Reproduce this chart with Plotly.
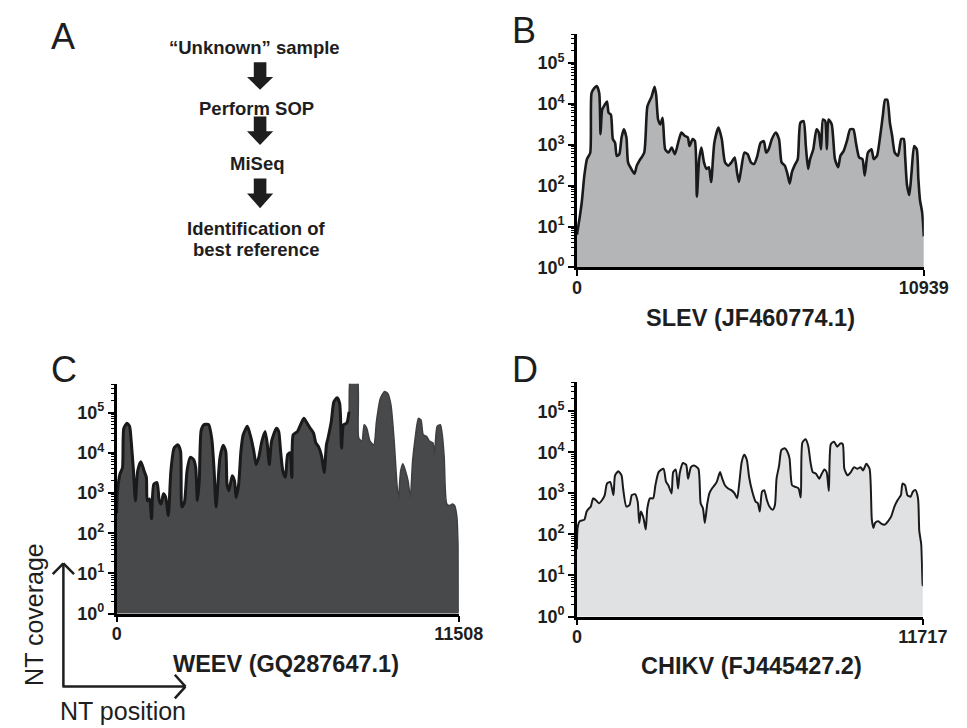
import plotly.graph_objects as go

# ---------------- data ----------------
# NT positions and log10(NT coverage)
slev_len = 10939
slev_pos = [0, 82, 153, 234, 316, 418, 459, 540, 622, 703,
            744, 795, 877, 948, 999, 1070, 1132, 1203, 1254, 1336,
            1407, 1478, 1560, 1611, 1713, 1815, 1886, 1968, 2121, 2222,
            2355, 2447, 2498, 2559, 2630, 2702, 2783, 2885, 2987, 3089,
            3191, 3293, 3395, 3497, 3548, 3650, 3721, 3782, 3854, 3925,
            4007, 4088, 4160, 4231, 4333, 4465, 4567, 4669, 4772, 4873,
            4975, 5047, 5108, 5179, 5281, 5383, 5485, 5587, 5689, 5791,
            5893, 5964, 6046, 6148, 6270, 6372, 6453, 6555, 6637, 6708,
            6779, 6861, 6963, 7045, 7147, 7218, 7289, 7351, 7453, 7554,
            7626, 7697, 7758, 7830, 7881, 7932, 8034, 8136, 8238, 8309,
            8411, 8513, 8615, 8717, 8798, 8900, 9002, 9074, 9176, 9288,
            9359, 9461, 9563, 9644, 9716, 9787, 9869, 9940, 10022, 10124,
            10226, 10307, 10348, 10409, 10481, 10552, 10634, 10715, 10766, 10817,
            10889, 10939]
slev_log_cov = [0.8, 1.2, 1.6, 2.25, 2.65, 2.8, 4.26, 4.38, 4.44, 4.26,
                3.26, 3.86, 3.98, 4.06, 3.78, 3.74, 3.14, 3.05, 2.73, 2.77,
                3.18, 3.38, 3.18, 2.57, 2.41, 2.29, 2.49, 2.61, 2.81, 3.94,
                4.18, 4.42, 4.22, 3.62, 3.5, 3.66, 2.89, 2.81, 2.93, 2.77,
                3.05, 3.3, 3.22, 3.18, 2.97, 3.14, 3.09, 1.73, 2.65, 2.93,
                2.57, 2.41, 2.45, 2.09, 3.05, 3.42, 3.14, 2.57, 2.49, 2.57,
                2.69, 2.33, 2.09, 2.41, 2.81, 2.77, 2.57, 2.53, 2.73, 3.05,
                3.09, 2.81, 2.89, 3.14, 3.3, 3.14, 2.57, 2.49, 2.29, 2.05,
                2.33, 2.49, 2.65, 3.54, 3.58, 2.97, 2.41, 2.65, 2.89, 3.38,
                3.3, 2.89, 3.62, 3.58, 2.89, 3.62, 3.5, 2.65, 2.45, 2.73,
                2.85, 3.09, 3.38, 3.38, 3.05, 2.69, 2.65, 2.25, 2.81, 2.89,
                2.65, 2.73, 3.22, 3.7, 4.1, 4.1, 3.54, 3.22, 2.81, 2.73,
                3.14, 3.14, 2.73, 2.01, 1.77, 2.33, 2.97, 2.89, 2.17, 1.65,
                1.33, 0.76]

weev_len = 11508
weev_pos = [0, 22, 109, 195, 239, 347, 434, 489, 565, 630,
            706, 814, 923, 999, 1031, 1107, 1173, 1249, 1357, 1433,
            1498, 1574, 1650, 1737, 1824, 1933, 2063, 2150, 2193, 2280,
            2367, 2475, 2584, 2660, 2714, 2779, 2845, 2953, 3094, 3203,
            3279, 3344, 3474, 3583, 3670, 3713, 3778, 3887, 3963, 4017,
            4104, 4180, 4256, 4397, 4506, 4614, 4690, 4777, 4886, 4994,
            5070, 5135, 5211, 5374, 5450, 5515, 5591, 5678, 5754, 5830,
            5895, 5939, 6080, 6188, 6297, 6406, 6514, 6623, 6699, 6786,
            6894, 6981, 7057, 7111, 7220, 7307, 7415, 7502, 7567, 7632,
            7741, 7817, 7871, 8088, 8143, 8251, 8327, 8414, 8523, 8653,
            8740, 8870, 9011, 9120, 9228, 9337, 9413, 9478, 9554, 9630,
            9717, 9804, 9880, 9956, 10043, 10151, 10238, 10314, 10423, 10531,
            10640, 10694, 10781, 10890, 10966, 11020, 11107, 11216, 11292, 11368,
            11433, 11487, 11508]
weev_log_cov = [2.5, 2.98, 3.47, 3.63, 4.61, 4.74, 4.66, 4.29, 3.55, 2.81,
                3.55, 3.78, 3.55, 3.39, 2.81, 2.85, 2.36, 3.22, 3.26, 2.81,
                2.73, 2.98, 2.89, 2.44, 3.55, 4.12, 4.20, 4.04, 2.65, 2.77,
                3.55, 3.89, 3.84, 3.63, 2.81, 3.30, 4.57, 4.71, 4.70, 4.33,
                3.55, 2.65, 3.88, 4.19, 4.04, 3.22, 3.06, 3.43, 3.30, 2.89,
                3.22, 4.04, 4.45, 4.66, 4.41, 4.04, 3.71, 3.88, 4.29, 4.53,
                4.20, 3.71, 4.29, 4.61, 4.53, 4.04, 3.55, 3.39, 3.96, 4.0,
                3.39, 4.45, 4.53, 4.70, 4.86, 4.74, 4.61, 4.49, 4.25, 4.16,
                3.92, 3.51, 4.20, 4.37, 4.78, 5.27, 5.37, 5.23, 4.12, 4.70,
                4.74, 5.02, 5.9, 5.9, 4.37, 4.29, 4.70, 4.61, 4.29, 4.20,
                4.78, 5.35, 5.53, 5.48, 5.19, 4.29, 3.39, 2.85, 3.55, 3.73,
                3.55, 3.30, 2.89, 3.80, 4.37, 4.86, 4.82, 4.45, 4.41, 4.29,
                4.25, 3.96, 4.66, 4.70, 4.37, 3.88, 2.73, 2.69, 2.73, 2.69,
                2.48, 1.83, 0.02]
weev_outline_end = 7817   # black outline drawn up to this position

chikv_len = 11717
chikv_pos = [0, 22, 88, 252, 328, 416, 470, 547, 635, 744,
             853, 941, 1017, 1127, 1236, 1291, 1400, 1510, 1564, 1674,
             1783, 1860, 1969, 2057, 2111, 2166, 2254, 2330, 2385, 2472,
             2582, 2658, 2768, 2932, 3019, 3096, 3205, 3260, 3348, 3424,
             3479, 3588, 3698, 3763, 3862, 3971, 4113, 4190, 4267, 4332,
             4409, 4485, 4573, 4660, 4737, 4846, 4923, 5011, 5120, 5229,
             5339, 5426, 5503, 5579, 5667, 5754, 5831, 5940, 6050, 6126,
             6192, 6269, 6345, 6433, 6520, 6630, 6706, 6761, 6848, 6925,
             7034, 7111, 7199, 7286, 7395, 7505, 7581, 7636, 7746, 7833,
             7910, 7986, 8096, 8205, 8293, 8380, 8457, 8533, 8599, 8708,
             8818, 8927, 9004, 9058, 9168, 9277, 9387, 9496, 9605, 9693,
             9802, 9912, 9988, 10043, 10098, 10207, 10316, 10426, 10535, 10645,
             10754, 10863, 10973, 11028, 11115, 11192, 11301, 11378, 11465, 11553,
             11596, 11662, 11706, 11717]
chikv_log_cov = [1.64, 2.16, 2.32, 2.36, 2.56, 2.64, 2.68, 2.88, 2.84, 2.76,
                 2.84, 2.96, 3.24, 3.28, 2.96, 3.44, 3.54, 3.44, 3.12, 2.68,
                 2.72, 2.96, 2.98, 2.80, 2.28, 2.56, 2.40, 2.12, 2.64, 2.88,
                 2.88, 3.20, 3.52, 3.60, 3.28, 3.20, 3.00, 3.52, 3.58, 3.12,
                 3.48, 3.74, 3.70, 3.36, 3.64, 3.68, 3.60, 2.76, 2.64, 2.28,
                 2.72, 3.00, 3.12, 3.20, 3.28, 3.52, 3.36, 3.20, 3.12, 3.08,
                 3.00, 2.88, 3.28, 3.76, 3.94, 3.82, 3.40, 3.04, 2.80, 2.76,
                 2.56, 3.04, 3.08, 2.84, 2.68, 2.60, 2.72, 3.36, 3.68, 4.06,
                 4.10, 4.04, 3.86, 3.20, 3.16, 3.12, 2.90, 4.24, 4.32, 4.16,
                 3.76, 3.52, 3.48, 3.36, 3.48, 3.58, 3.52, 3.06, 4.20, 4.26,
                 4.14, 4.22, 4.20, 3.60, 3.44, 3.52, 3.64, 3.60, 3.64, 3.56,
                 3.72, 3.60, 2.36, 2.16, 2.28, 2.32, 2.26, 2.24, 2.32, 2.44,
                 2.68, 2.84, 2.96, 3.24, 3.20, 2.96, 2.92, 3.04, 3.08, 2.88,
                 2.08, 1.76, 0.80, 0.74]

y_exponents = [0, 1, 2, 3, 4, 5]
y_top_log = 5.72

flow_steps = ["\u201cUnknown\u201d sample", "Perform SOP", "MiSeq",
              "Identification of", "best reference"]
titles = ["SLEV (JF460774.1)", "WEEV (GQ287647.1)", "CHIKV (FJ445427.2)"]

# ---------------- helpers ----------------
W, H = 967, 728
def fx(x):
    return x / W
def fy(y):
    return 1 - y / H

FONT = "Liberation Sans, Arial, sans-serif"
INK = "#1e1e1e"

fig = go.Figure()

panels = [
    dict(pos=slev_pos, lc=slev_log_cov, L=slev_len, fill="#b4b5b7", lw=2.6,
         xd=(582, 940), yd=(263, 26), ax=""),
    dict(pos=weev_pos, lc=weev_log_cov, L=weev_len, fill="#48494b", lw=3.0,
         xd=(107, 460), yd=(614, 381), ax="2"),
    dict(pos=chikv_pos, lc=chikv_log_cov, L=chikv_len, fill="#e0e1e3", lw=2.0,
         xd=(582, 939), yd=(617, 379), ax="3"),
]

minor_vals = [m * 10 ** k for k in range(0, 6) for m in range(2, 10)
              if m * 10 ** k < 10 ** y_top_log]

SMOOTH = 0.6
for i, p in enumerate(panels):
    yv = [10 ** v for v in p["lc"]]
    xr, yr = "x" + p["ax"], "y" + p["ax"]
    if i == 1:
        fig.add_trace(go.Scatter(x=p["pos"], y=yv, mode="lines", fill="tozeroy",
                                 fillcolor=p["fill"],
                                 line=dict(color="#3e3f41", width=1.5,
                                           shape="spline", smoothing=SMOOTH),
                                 xaxis=xr, yaxis=yr, hoverinfo="skip"))
        n = sum(1 for q in p["pos"] if q <= weev_outline_end)
        fig.add_trace(go.Scatter(x=p["pos"][:n], y=yv[:n], mode="lines",
                                 line=dict(color="#1a1a1a", width=p["lw"],
                                           shape="spline", smoothing=SMOOTH),
                                 xaxis=xr, yaxis=yr, hoverinfo="skip"))
    else:
        fig.add_trace(go.Scatter(x=p["pos"], y=yv, mode="lines", fill="tozeroy",
                                 fillcolor=p["fill"],
                                 line=dict(color="#1a1a1a", width=p["lw"],
                                           shape="spline", smoothing=SMOOTH),
                                 xaxis=xr, yaxis=yr, hoverinfo="skip"))

    xkey = "xaxis" + p["ax"]
    ykey = "yaxis" + p["ax"]
    fig.update_layout(**{
        xkey: dict(domain=[fx(p["xd"][0]), fx(p["xd"][1])], anchor=yr,
                   range=[0, p["L"]], tickmode="array", tickvals=[0, p["L"]],
                   ticktext=["0", str(p["L"])],
                   showline=True, linecolor="black", linewidth=2.5,
                   ticks="outside", ticklen=6, tickwidth=2, tickcolor="black",
                   ticklabelstandoff=-4,
                   showgrid=False, zeroline=False,
                   tickfont=dict(family=FONT, size=18, color=INK, weight="bold")),
        ykey: dict(domain=[fy(p["yd"][0]), fy(p["yd"][1])], anchor=xr,
                   type="log", range=[0, y_top_log], tickmode="array",
                   tickvals=[10 ** e for e in y_exponents],
                   ticktext=["10<sup>%d</sup>" % e for e in y_exponents],
                   showline=True, linecolor="black", linewidth=2.5,
                   ticks="outside", ticklen=6, tickwidth=2, tickcolor="black",
                   minor=dict(tickmode="array", tickvals=minor_vals,
                              ticks="outside", ticklen=3, tickwidth=1,
                              tickcolor="black", showgrid=False),
                   showgrid=False, zeroline=False,
                   tickfont=dict(family=FONT, size=18, color=INK, weight="bold")),
    })

ann = []
def text(x, y, s, size, bold=False, angle=0):
    ann.append(dict(x=fx(x), y=fy(y), xref="paper", yref="paper", text=s,
                    showarrow=False, xanchor="center", yanchor="middle",
                    textangle=angle,
                    font=dict(family=FONT, size=size, color=INK,
                              weight="bold" if bold else "normal")))

# panel letters
text(52, 29, "A", 36)
text(527, 23, "B", 36)
text(53, 367, "C", 36)
text(528, 367, "D", 36)

# axis titles
text(761, 314, titles[0], 23.5, True)
text(282, 665, titles[1], 23.5, True)
text(762, 667, titles[2], 23.5, True)

# flowchart
text(249, 40, flow_steps[0], 18.5, True)
text(251, 102, flow_steps[1], 18.5, True)
text(252, 158, flow_steps[2], 18.5, True)
text(251, 224, flow_steps[3], 18.5, True)
text(251, 245, flow_steps[4], 18.5, True)

# NT labels
text(21, 615, "NT coverage", 25, False, -90)
text(114, 713, "NT position", 25)

shapes = []
def block_arrow(cx, top, head, tip, sw=6.5, hw=13.5):
    pts = [(cx - sw, top), (cx + sw, top), (cx + sw, head), (cx + hw, head),
           (cx, tip), (cx - hw, head), (cx - sw, head)]
    path = "M " + " L ".join("%f,%f" % (fx(a), fy(b)) for a, b in pts) + " Z"
    shapes.append(dict(type="path", xref="paper", yref="paper", path=path,
                       fillcolor=INK, line=dict(width=0)))

block_arrow(255, 55, 70, 83)
block_arrow(255, 110, 125, 139)
block_arrow(255, 173, 188, 203)

def seg(x0, y0, x1, y1, w=2.5):
    shapes.append(dict(type="line", xref="paper", yref="paper",
                       x0=fx(x0), y0=fy(y0), x1=fx(x1), y1=fy(y1),
                       line=dict(color=INK, width=w)))

seg(52, 688, 52, 563)
seg(52, 563, 41, 574)
seg(52, 563, 63, 574)
seg(51, 688, 178, 688)
seg(178, 688, 167, 676)
seg(178, 688, 167, 700)

fig.update_layout(width=W, height=H, margin=dict(l=0, r=0, t=0, b=0),
                  paper_bgcolor="white", plot_bgcolor="white",
                  showlegend=False, annotations=ann, shapes=shapes)

fig.write_html("out.html")
